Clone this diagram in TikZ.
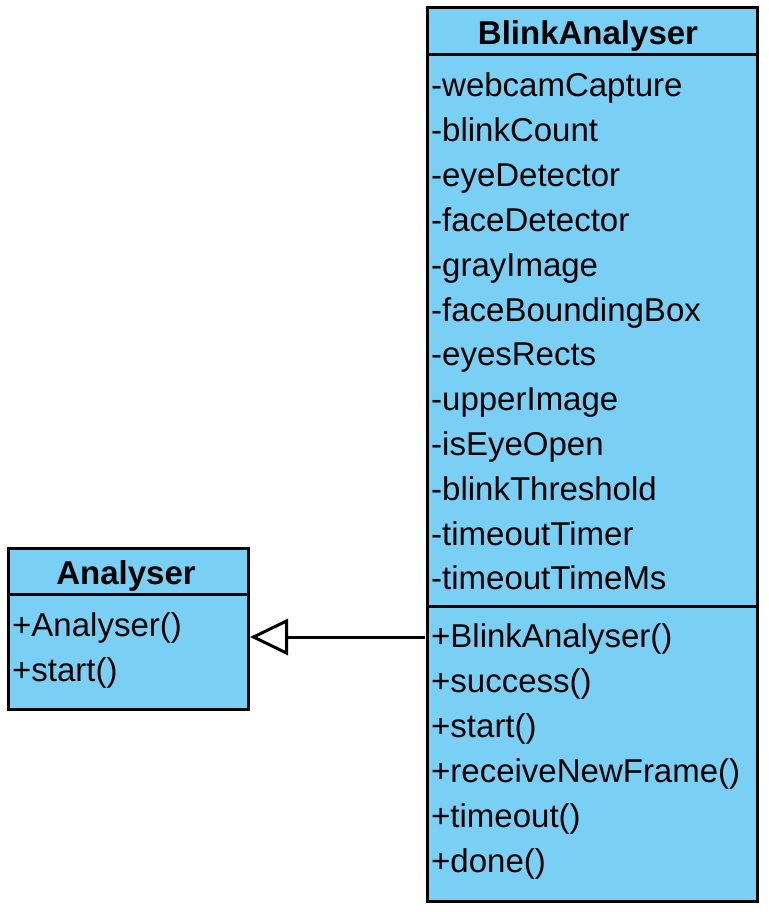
\documentclass[tikz,border=0pt]{standalone}
\usepackage{fontspec}
\setmainfont{Liberation Sans}
\usetikzlibrary{arrows.meta}
\definecolor{clsfill}{RGB}{122,207,244}
\tikzset{
  classbox/.style={draw=black, line width=3pt, fill=clsfill, inner sep=0pt, anchor=north west},
  divider/.style={draw=black, line width=3pt},
  member/.style={inner sep=0pt, anchor=base west, font=\fontsize{33}{40}\selectfont},
  classtitle/.style={inner sep=0pt, anchor=base, font=\fontsize{33}{40}\selectfont\bfseries},
  inherit/.style={draw=black, line width=3pt, -{Triangle[open, length=38pt, width=36pt, line width=3pt]}}
}
\begin{document}
\begin{tikzpicture}[x=1pt,y=-1pt]
\useasboundingbox (0,0) rectangle (768,912);
% Analyser
\node[classbox, minimum width=240pt, minimum height=161pt] (an) at (7,547) {};
\draw[divider] (7,594) -- (247,594);
\node[classtitle] (antitle) at (126,584) {Analyser};
\node[member] (anm1) at (12,636) {+Analyser()};
\node[member] (anm2) at (12,681) {+start()};
% BlinkAnalyser
\node[classbox, minimum width=330pt, minimum height=894pt] (ba) at (426,6) {};
\draw[divider] (426,55) -- (756,55);
\draw[divider] (426,606) -- (756,606);
\node[classtitle] (batitle) at (588,45) {BlinkAnalyser};
\foreach \t [count=\i] in {webcamCapture,blinkCount,eyeDetector,faceDetector,grayImage,faceBoundingBox,eyesRects,upperImage,isEyeOpen,blinkThreshold,timeoutTimer,timeoutTimeMs}
  \node[member] (baa\i) at (431,{97+(\i-1)*44.8}) {-\t};
\foreach \t [count=\i] in {BlinkAnalyser(),success(),start(),receiveNewFrame(),timeout(),done()}
  \node[member] (bam\i) at (431,{647+(\i-1)*45}) {+\t};
% inheritance
\coordinate (c1) at (425,637);
\draw[inherit] (c1) -- (an.east |- c1);
\end{tikzpicture}
\end{document}
